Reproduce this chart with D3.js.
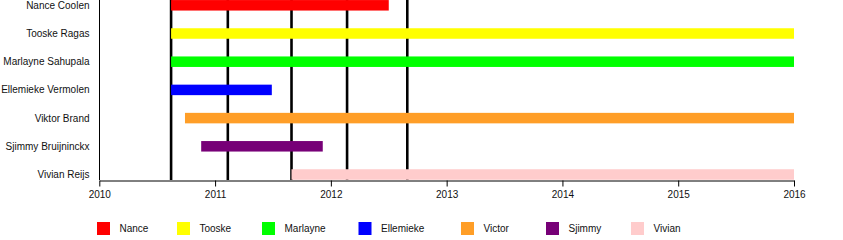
<!DOCTYPE html>
<html>
<head>
<meta charset="utf-8">
<script src="https://cdn.jsdelivr.net/npm/d3@7"></script>
<style>
  body { margin: 0; background: #fff; }
  text { font-family: "Liberation Sans", Arial, sans-serif; font-size: 10px; fill: #111; }
</style>
</head>
<body>
<div id="chart"></div>
<script>
// members, in row order
var names = ["Nance Coolen", "Tooske Ragas", "Marlayne Sahupala", "Ellemieke Vermolen",
             "Viktor Brand", "Sjimmy Bruijninckx", "Vivian Reijs"];
var starts = [2010.62, 2010.62, 2010.62, 2010.62, 2010.74, 2010.88, 2011.66];
var ends   = [2012.50, 2016.00, 2016.00, 2011.49, 2016.00, 2011.93, 2016.00];
var colors = ["#ff0000", "#ffff00", "#00ff00", "#0000ff", "#ff9e27", "#770077", "#ffcccc"];

// album release dates (vertical lines)
var releases = [2010.62, 2011.11, 2011.66, 2012.14, 2012.66];

var legendNames = ["Nance", "Tooske", "Marlayne", "Ellemieke", "Victor", "Sjimmy", "Vivian"];
var tickYears = [2010, 2011, 2012, 2013, 2014, 2015, 2016];

var width = 843, height = 240;
var svg = d3.select('#chart').append('svg')
  .attr('width', width)
  .attr('height', height);

var xScale = d3.scaleLinear()
  .domain([2010, 2016])
  .range([99.3, 794]);

var yScale = d3.scalePoint()
  .domain(names)
  .range([5.3, 174.5]);

var axisY = 180;
var barH = 10.5;

// release lines behind the bars
svg.append('g').selectAll('line')
  .data(releases)
  .enter()
  .append('line')
  .attr('x1', function (d) { return xScale(d); })
  .attr('x2', function (d) { return xScale(d); })
  .attr('y1', 0)
  .attr('y2', axisY)
  .attr('stroke', '#000')
  .attr('stroke-width', 2.6);

var rows = names.map(function (n, i) {
  return { name: n, start: starts[i], end: ends[i], color: colors[i] };
});

svg.append('g').selectAll('rect')
  .data(rows)
  .enter()
  .append('rect')
  .attr('x', function (d) { return xScale(d.start); })
  .attr('width', function (d) { return xScale(d.end) - xScale(d.start); })
  .attr('y', function (d) { return yScale(d.name) - barH / 2; })
  .attr('height', barH)
  .attr('fill', function (d) { return d.color; });

// row labels
svg.append('g').selectAll('text')
  .data(names)
  .enter()
  .append('text')
  .attr('x', 89.5)
  .attr('y', function (d) { return yScale(d); })
  .attr('dy', '0.35em')
  .attr('text-anchor', 'end')
  .text(function (d) { return d; });

// left axis line
svg.append('line')
  .attr('x1', 99.5).attr('x2', 99.5)
  .attr('y1', 0).attr('y2', axisY)
  .attr('stroke', '#000');

// bottom axis
var xAxis = d3.axisBottom(xScale)
  .tickValues(tickYears)
  .tickFormat(d3.format('d'))
  .tickSize(6)
  .tickSizeOuter(0);

var ax = svg.append('g')
  .attr('transform', 'translate(0,' + (axisY + 0.5) + ')')
  .call(xAxis);
ax.select('.domain').attr('stroke', '#000');
ax.selectAll('.tick line').attr('stroke', '#000');
ax.selectAll('.tick text')
  .attr('y', 10)
  .style('font-family', '"Liberation Sans", Arial, sans-serif')
  .style('font-size', '10px')
  .attr('fill', '#111');

// legend
var legendX = [97, 177, 262, 358.5, 461, 546, 631];
var lg = svg.append('g').selectAll('g')
  .data(legendNames)
  .enter()
  .append('g')
  .attr('transform', function (d, i) { return 'translate(' + legendX[i] + ',222)'; });

lg.append('rect')
  .attr('width', 13)
  .attr('height', 13)
  .attr('fill', function (d, i) { return colors[i]; });

lg.append('text')
  .attr('x', 22.5)
  .attr('y', 6.8)
  .attr('dy', '0.35em')
  .text(function (d) { return d; });
</script>
</body>
</html>
